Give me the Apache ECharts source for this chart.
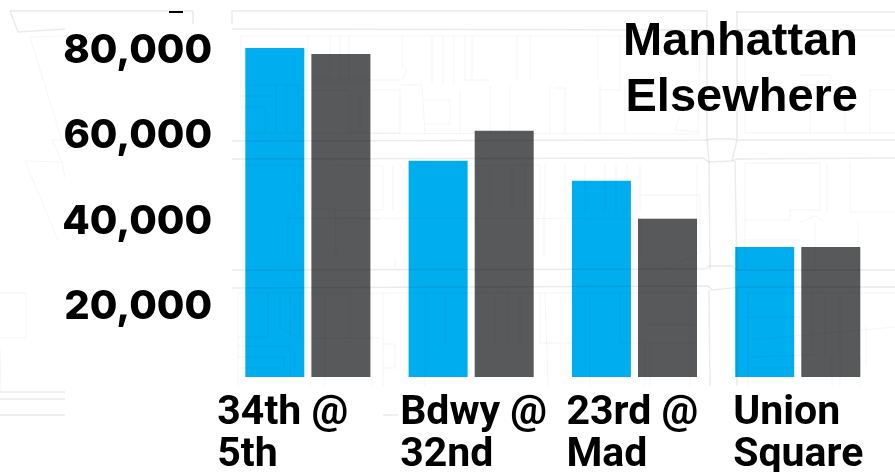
<!DOCTYPE html>
<html>
<head>
<meta charset="utf-8">
<style>html,body{margin:0;padding:0;background:#fff}#chart{width:895px;height:472px}</style>
<script src="https://cdn.jsdelivr.net/npm/echarts@6/dist/echarts.min.js"></script>
</head>
<body>
<div id="chart"></div>
<script>
// Pedestrian counts by location
const categories = ['34th @\n5th', 'Bdwy @\n32nd', '23rd @\nMad', 'Union\nSquare'];
const manhattan = [80000, 53600, 48900, 33400];
const elsewhere = [78600, 60600, 40000, 33400];
const tickValues = [20000, 40000, 60000, 80000];

// Half-width of each label box, so every label starts at its own left edge
const labelBoxWidths = [181, 142, 136, 129];

// Faint street map behind the figures: polylines in page pixels
const roads = [
  [[10,11],[193,11]], [[231,11],[262,11],[707,11],[707,139]],
  [[737,11],[737,139]], [[737,12],[895,12]], [[232,29],[707,30]], [[737,30],[895,30]],
  [[232,141],[707,140],[712,139],[732,139],[737,140],[895,140]],
  [[232,159],[703,158],[709,162],[732,161],[737,159],[895,158]],
  [[709,162],[707,139]], [[732,161],[737,140]],
  [[709,162],[710,270]], [[735,161],[737,270]],
  [[232,270],[705,269],[709,266],[732,266],[737,270],[895,270]],
  [[232,288],[708,286],[712,290],[732,288],[737,287],[895,287]],
  [[709,290],[710,386]], [[737,288],[737,386]],
  [[0,392],[65,392]], [[0,399],[65,399]], [[0,415],[65,415]], [[383,415],[398,415]],
  [[10,11],[18,32],[65,29]], [[193,11],[193,24]], [[232,12],[232,24]]
];
const buildings = [
  [[65,36],[30,37],[62,141]],
  [[52,140],[65,140]], [[52,140],[62,162],[65,178]], [[25,161],[60,162]], [[25,161],[58,240]],
  [[0,293],[26,293],[26,338],[0,338]], [[0,349],[1,392]],
  [[241,36],[700,36]], [[241,36],[241,133],[700,134]], [[308,36],[308,80]], [[330,36],[330,80]],
  [[340,36],[340,80]], [[349,36],[349,80]], [[402,36],[402,66],[407,70],[402,80],[310,80]],
  [[432,36],[432,84]], [[443,36],[443,84]], [[454,36],[454,84]],
  [[465,36],[465,80],[490,80]], [[472,80],[472,36]], [[517,36],[517,80]], [[530,36],[530,80]],
  [[598,36],[598,80]], [[620,36],[620,90],[600,90]], [[252,85],[300,85]], [[238,96],[275,96]],
  [[241,107],[265,107],[265,133]], [[276,85],[276,133]], [[287,85],[287,133]], [[298,85],[298,133]],
  [[300,90],[350,90],[350,133]], [[360,90],[360,133]], [[370,90],[400,90],[400,133],[370,133]],
  [[400,85],[422,85],[425,133]], [[425,100],[450,100],[450,124],[425,124]],
  [[460,90],[460,133]], [[490,85],[490,133]], [[510,85],[510,133]], [[550,85],[550,133]],
  [[555,88],[565,88],[565,133]], [[600,85],[600,133]], [[625,85],[625,133]],
  [[680,115],[675,130],[700,132]], [[700,36],[698,132]],
  [[745,36],[745,133]], [[745,133],[895,133]], [[745,36],[895,36]], [[800,75],[830,75],[835,85],[800,85]],
  [[810,100],[810,133]], [[845,100],[845,133]], [[870,90],[870,133]], [[870,90],[895,90]],
  [[241,165],[300,165],[298,210],[288,218],[288,258]], [[310,165],[310,209],[335,209],[336,258]],
  [[330,165],[383,166],[383,210],[330,210]], [[393,166],[393,210]], [[403,166],[403,210]],
  [[413,166],[540,165]], [[540,165],[540,212]], [[478,165],[478,258]], [[490,165],[490,212]],
  [[512,165],[512,212]], [[525,165],[525,212]], [[545,163],[545,212]], [[544,212],[544,258]],
  [[565,165],[565,212]], [[585,165],[585,212]], [[605,165],[605,212]], [[616,165],[616,212]],
  [[627,165],[627,212]], [[640,165],[640,212]], [[640,195],[700,195],[700,252],[670,268]], [[640,218],[640,258]],
  [[697,165],[697,268]], [[745,163],[820,163],[820,210],[790,210],[790,220],[745,220]],
  [[745,163],[745,268]], [[827,163],[827,212]], [[850,163],[850,212],[895,212]], [[825,222],[815,216],[800,222]],
  [[330,218],[700,219]], [[395,258],[395,268]], [[700,268],[640,268]], [[288,218],[380,219]],
  [[815,222],[815,268]], [[858,222],[858,268]], [[745,240],[800,240]],
  [[238,293],[238,386]], [[238,293],[700,293]], [[745,293],[895,293]], [[268,293],[268,337],[238,337]],
  [[280,293],[280,328],[300,338]], [[290,293],[290,337]], [[300,293],[300,337]], [[310,293],[310,386]],
  [[238,346],[290,346],[290,378]], [[238,357],[284,357],[284,368],[238,368]],
  [[310,338],[380,338]], [[325,293],[325,386]], [[350,293],[350,338]], [[372,293],[372,386]],
  [[383,293],[383,386]], [[383,344],[395,344],[395,368],[383,368]], [[425,293],[425,386]], [[445,293],[445,346]],
  [[470,293],[470,338]], [[495,293],[495,346]], [[508,293],[508,346]], [[520,293],[520,346]],
  [[540,293],[540,343],[575,343]], [[575,293],[575,343]], [[545,293],[548,386]],
  [[590,293],[590,386]], [[630,293],[630,343]], [[620,293],[620,343],[645,343]], [[645,345],[645,386]],
  [[648,325],[696,325]], [[650,343],[696,343]], [[650,343],[650,386]], [[690,293],[690,386]],
  [[748,293],[748,386]], [[748,317],[800,317]], [[748,340],[895,327]], [[748,357],[820,355]], [[748,368],[800,368]],
  [[800,293],[800,355]], [[812,293],[812,355]], [[825,293],[825,355]], [[840,293],[840,386]], [[866,325],[866,365]],
  [[832,386],[832,355]], [[860,386],[860,355]]
];

// Areas kept free of the map so the axis text stays clean
const clearAreas = [
  { x: 65, y: 24, width: 167, height: 362 },
  { x: 65, y: 386, width: 318, height: 86 },
  { x: 398, y: 386, width: 497, height: 86 }
];

const rich = {};
labelBoxWidths.forEach((w, i) => {
  rich['c' + i] = {
    width: w, align: 'left', fontFamily: 'Roboto', fontWeight: 700,
    fontSize: 41, lineHeight: 42, color: '#000'
  };
});

const mapLine = (points, stroke, lineWidth) => ({
  type: 'polyline', silent: true, z: 3,
  shape: { points },
  style: { fill: null, stroke, lineWidth }
});

const chart = echarts.init(document.getElementById('chart'), null, { renderer: 'canvas' });
chart.setOption({
  animation: false,
  backgroundColor: '#fff',
  grid: { left: 226.2, right: 15.6, top: 20, bottom: 95, outerBoundsMode: 'none' },
  title: {
    text: 'Manhattan\nElsewhere',
    left: 853, top: 9, z: 6,
    textAlign: 'right',
    textStyle: { fontFamily: 'Liberation Sans', fontWeight: 700, fontSize: 47, lineHeight: 56, color: '#000' }
  },
  xAxis: {
    type: 'category',
    data: categories,
    z: 5,
    axisLine: { show: false },
    axisTick: { show: false },
    axisLabel: {
      interval: 0,
      margin: 16,
      align: 'center',
      formatter: (value, index) => value.split('\n').map(l => `{c${index}|${l}}`).join('\n'),
      rich
    }
  },
  yAxis: {
    type: 'value',
    min: 2930,
    max: 86561,
    z: 5,
    splitLine: { show: false },
    axisLine: { show: false },
    axisTick: { show: false },
    axisLabel: {
      customValues: tickValues,
      margin: 14,
      // a short line box hung from the tick drops the digits just below its centre
      verticalAlign: 'top',
      lineHeight: 6,
      fontFamily: 'Inter', fontWeight: 800, fontSize: 40, color: '#000',
      formatter: v => v.toLocaleString('en-US')
    }
  },
  series: [
    { name: 'Manhattan', type: 'bar', data: manhattan, barWidth: 59, barGap: '12%', z: 2,
      itemStyle: { color: '#00aeef' } },
    { name: 'Elsewhere', type: 'bar', data: elsewhere, barWidth: 59, z: 2,
      itemStyle: { color: '#58595b' } }
  ],
  graphic: [
    ...roads.map(p => mapLine(p, 'rgba(0,0,0,0.08)', 1.5)),
    ...buildings.map(p => mapLine(p, 'rgba(0,0,0,0.04)', 1)),
    ...clearAreas.map(a => ({
      type: 'rect', silent: true, z: 4,
      shape: a, style: { fill: '#fff' }
    })),
    { type: 'rect', silent: true, z: 4,
      shape: { x: 169, y: 11, width: 14, height: 2 }, style: { fill: '#000' } }
  ]
});
</script>
</body>
</html>
